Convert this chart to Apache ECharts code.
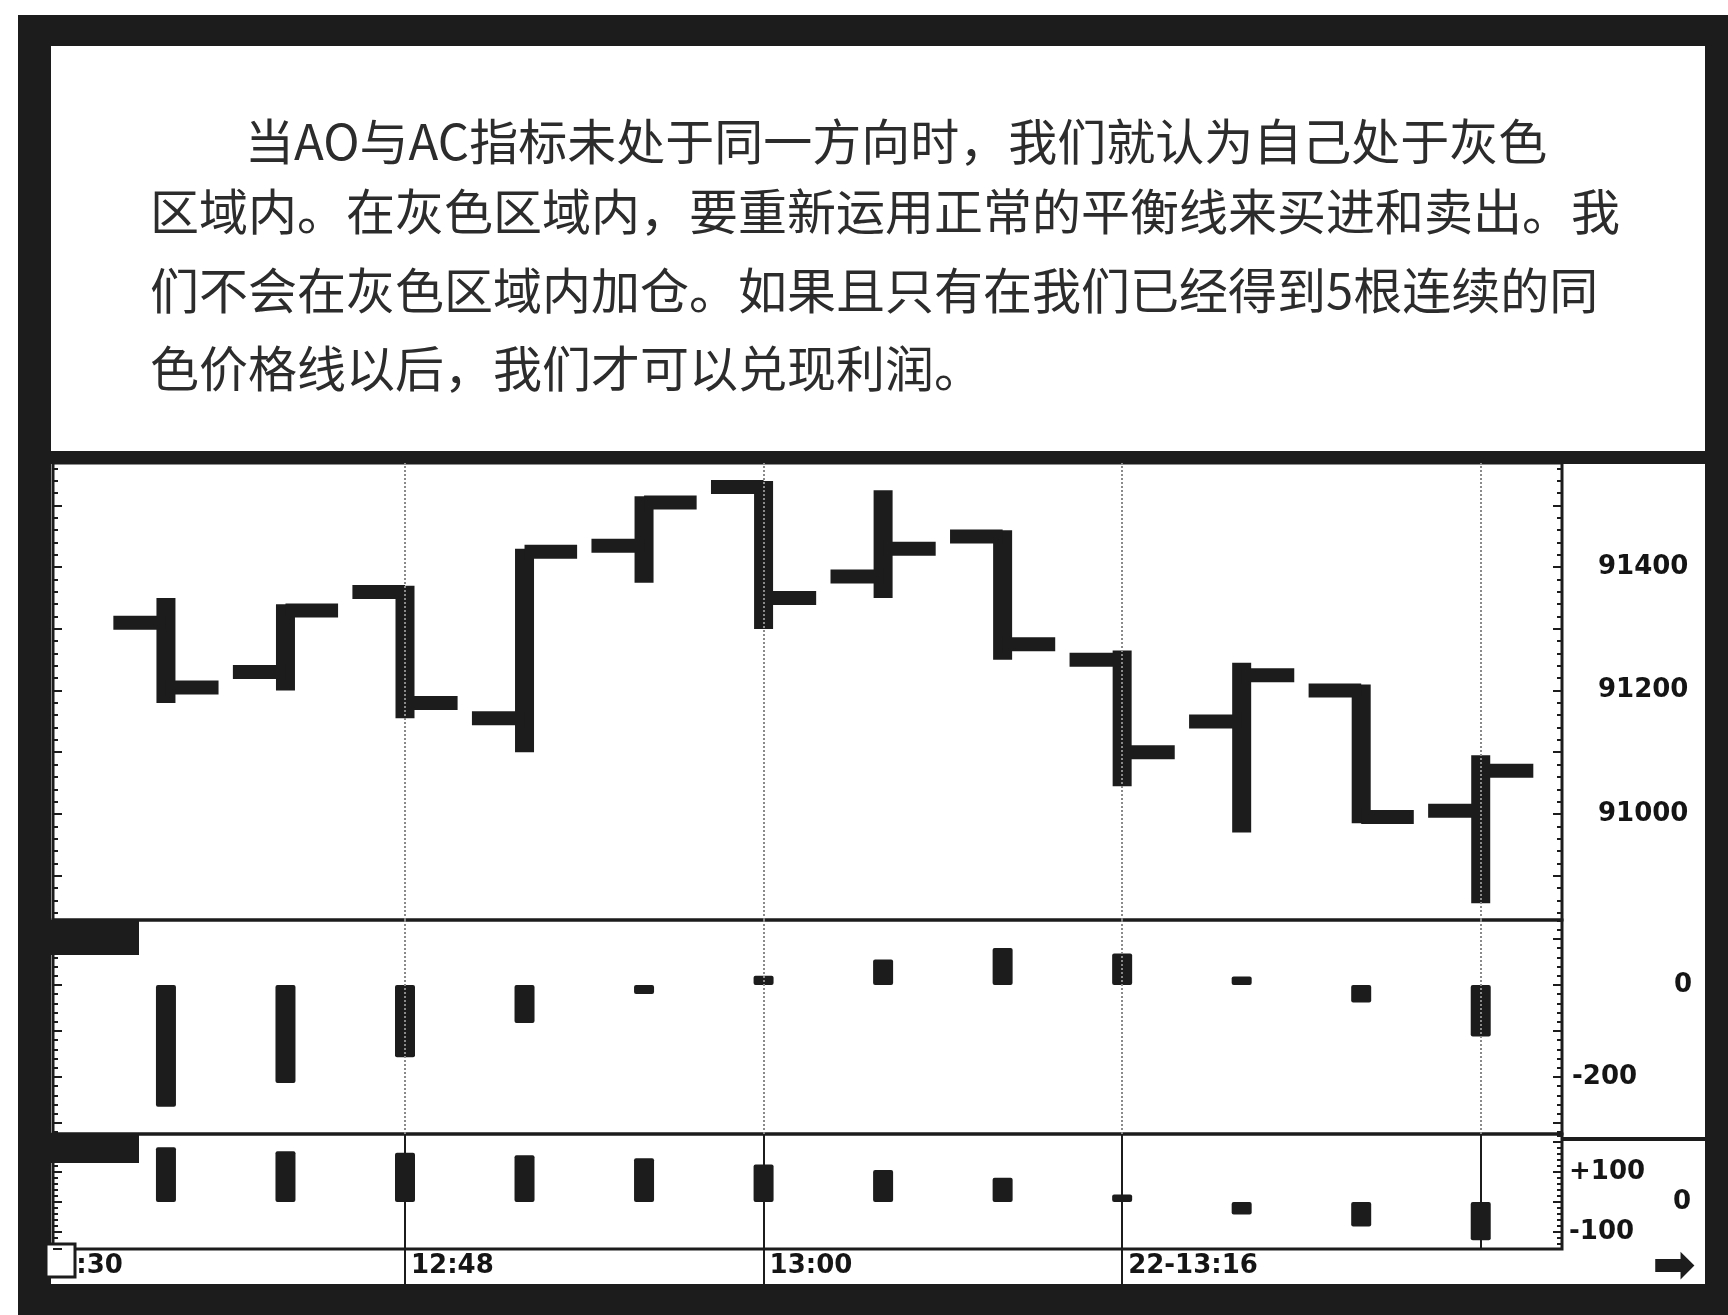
<!DOCTYPE html>
<html><head><meta charset="utf-8">
<script src="https://cdn.jsdelivr.net/npm/echarts@6/dist/echarts.min.js"></script>
<style>html,body{margin:0;padding:0;background:#fff}#c{width:1728px;height:1315px}</style>
</head><body><div id="c"></div>
<script>
// ---- text ----
const textLines = [
  '当AO与AC指标未处于同一方向时，我们就认为自己处于灰色',
  '区域内。在灰色区域内，要重新运用正常的平衡线来买进和卖出。我',
  '们不会在灰色区域内加仓。如果且只有在我们已经得到5根连续的同',
  '色价格线以后，我们才可以兑现利润。'
];
// ---- data ----
const barIndex = [0, 1, 2, 3, 4, 5, 6, 7, 8, 9, 10, 11];
const openP  = [91310, 91230, 91360, 91155, 91435, 91530, 91385, 91450, 91250, 91150, 91200, 91005];
const highP  = [91350, 91340, 91370, 91430, 91515, 91540, 91525, 91460, 91265, 91245, 91210, 91095];
const lowP   = [91180, 91200, 91155, 91100, 91375, 91300, 91350, 91250, 91045, 90970, 90985, 90855];
const closeP = [91205, 91330, 91180, 91425, 91505, 91350, 91430, 91275, 91100, 91225, 90995, 91070];
const aoValues = [-265, -213, -157, -83, -20, 20, 55, 80, 68, 18, -38, -112];
const acValues = [183, 169, 164, 156, 146, 125, 107, 81, 25, -42, -82, -128];
// ---- tick labels ----
const priceLabels = [91000, 91200, 91400];
const aoLabels = [0, -200];
const acLabels = [100, 0, -100];
const timeTickPos = [-0.8, 2, 5, 8];
const timeTickText = [':30', '12:48', '13:00', '22-13:16'];
const gridLineIdx = [2, 5, 8, 11];

const INK = '#1c1c1c';
const X_MIN = -0.945, X_MAX = 11.68;
const numFont = {fontFamily: '"DejaVu Sans"', fontWeight: 'bold', fontSize: 26, color: '#151515'};

const chart = echarts.init(document.getElementById('c'), null, {renderer: 'canvas'});

function ohlcRender(params, api) {
  const x = api.value(0);
  const pO = api.coord([x, api.value(1)]);
  const pH = api.coord([x, api.value(2)]);
  const pL = api.coord([x, api.value(3)]);
  const pC = api.coord([x, api.value(4)]);
  const tick = api.size([0.44, 0])[0];
  const bw = 19, th = 14;
  const st = {fill: INK};
  return {type: 'group', children: [
    {type: 'rect', shape: {x: pH[0] - bw / 2, y: pH[1], width: bw, height: pL[1] - pH[1]}, style: st},
    {type: 'rect', shape: {x: pO[0] - tick, y: pO[1] - th / 2, width: tick, height: th}, style: st},
    {type: 'rect', shape: {x: pC[0], y: pC[1] - th / 2, width: tick, height: th}, style: st}
  ]};
}

function sideAxis(grid, pos, min, max, splitNumber, labelCfg) {
  return {
    type: 'value', gridIndex: grid, position: pos, min: min, max: max, splitNumber: splitNumber,
    axisLine: {show: false, onZero: false}, splitLine: {show: false},
    axisTick: {show: true, inside: true, length: 9, lineStyle: {color: INK, width: 2}},
    minorTick: {show: true, splitNumber: 5, length: 5, lineStyle: {color: INK, width: 2}},
    axisLabel: labelCfg || {show: false}
  };
}

const dottedML = {
  symbol: 'none', silent: true, label: {show: false},
  lineStyle: {color: '#8a8a8a', type: 'dotted', width: 2},
  data: gridLineIdx.map(v => ({xAxis: v}))
};
const solidML = {
  symbol: 'none', silent: true, label: {show: false},
  lineStyle: {color: INK, type: 'solid', width: 2},
  data: gridLineIdx.map(v => ({xAxis: v}))
};

const graphics = [
  {type: 'rect', shape: {x: 18, y: 15, width: 1710, height: 31}, style: {fill: INK}},
  {type: 'rect', shape: {x: 18, y: 15, width: 33, height: 1300}, style: {fill: INK}},
  {type: 'rect', shape: {x: 1705, y: 15, width: 23, height: 1300}, style: {fill: INK}},
  {type: 'rect', shape: {x: 18, y: 1284, width: 1710, height: 31}, style: {fill: INK}},
  {type: 'rect', shape: {x: 50, y: 451, width: 1656, height: 13}, style: {fill: INK}},
  {type: 'rect', shape: {x: 50, y: 920, width: 89, height: 35}, style: {fill: INK}},
  {type: 'rect', shape: {x: 50, y: 1133, width: 89, height: 30}, style: {fill: INK}},
  {type: 'rect', shape: {x: 46, y: 1244, width: 29, height: 33}, style: {fill: '#fff', stroke: INK, lineWidth: 3}},
  {type: 'rect', shape: {x: 1562, y: 1137, width: 143, height: 4}, style: {fill: INK}},
  {type: 'text', x: 1674, y: 1268, style: {text: '➡', font: 'bold 52px "DejaVu Sans"', fill: INK, align: 'center', verticalAlign: 'middle'}}
];
const lineX = [245, 150, 150, 150];
const lineY = [141, 211, 290, 368];
textLines.forEach((t, i) => {
  graphics.push({type: 'text', x: lineX[i], y: lineY[i],
    style: {text: t, font: '49px "Noto Sans CJK SC"', fill: '#2c2c2c', align: 'left', verticalAlign: 'middle'}});
});

const option = {
  animation: false,
  backgroundColor: '#ffffff',
  grid: [
    {left: 53, top: 463, width: 1509, height: 457, show: true, borderColor: INK, borderWidth: 3},
    {left: 53, top: 920, width: 1509, height: 214, show: true, borderColor: INK, borderWidth: 3},
    {left: 53, top: 1134, width: 1509, height: 115, show: true, borderColor: INK, borderWidth: 3},
    {left: 53, top: 1249, width: 1509, height: 35, show: false}
  ],
  xAxis: [
    {type: 'value', gridIndex: 0, min: X_MIN, max: X_MAX, show: false},
    {type: 'value', gridIndex: 1, min: X_MIN, max: X_MAX, show: false},
    {type: 'value', gridIndex: 2, min: X_MIN, max: X_MAX, show: false},
    {type: 'value', gridIndex: 3, min: X_MIN, max: X_MAX, position: 'bottom',
      axisLine: {show: false, onZero: false}, splitLine: {show: false},
      axisTick: {show: true, customValues: [2, 5, 8], inside: true, length: 35, lineStyle: {color: INK, width: 2}},
      axisLabel: Object.assign({
        customValues: timeTickPos, inside: true, margin: 5, align: 'left', padding: [0, 0, 0, 6],
        formatter: v => { const k = timeTickPos.findIndex(p => Math.abs(p - v) < 1e-6); return k >= 0 ? timeTickText[k] : ''; }
      }, numFont)}
  ],
  yAxis: [
    sideAxis(0, 'right', 90828, 91569, 7, Object.assign({customValues: priceLabels, margin: 36, align: 'left',
      formatter: v => String(v)}, numFont)),
    sideAxis(0, 'left', 90828, 91569, 7),
    sideAxis(1, 'right', -324, 141, 5, Object.assign({
      customValues: aoLabels, margin: 10, align: 'left',
      formatter: v => v === 0 ? '{z|0}' : String(v),
      rich: {z: Object.assign({width: 120, align: 'right'}, numFont)}
    }, numFont)),
    sideAxis(1, 'left', -324, 141, 5),
    sideAxis(2, 'right', -157, 227, 4, Object.assign({
      customValues: acLabels, margin: 7, align: 'left',
      formatter: v => v === 0 ? '{z|0}' : (v > 0 ? '+' + v : String(v)),
      rich: {z: Object.assign({width: 122, align: 'right'}, numFont)}
    }, numFont)),
    sideAxis(2, 'left', -157, 227, 4),
    {type: 'value', gridIndex: 3, min: 0, max: 1, show: false}
  ],
  graphic: graphics,
  series: [
    {type: 'custom', name: 'price', xAxisIndex: 0, yAxisIndex: 0, renderItem: ohlcRender,
      encode: {x: 0, y: [1, 2, 3, 4]},
      data: barIndex.map((x, i) => [x, openP[i], highP[i], lowP[i], closeP[i]]),
      markLine: dottedML, z: 3},
    {type: 'bar', name: 'AO', xAxisIndex: 1, yAxisIndex: 2, barWidth: 20,
      itemStyle: {color: INK, borderRadius: 2},
      data: barIndex.map((x, i) => [x, aoValues[i]]), markLine: dottedML},
    {type: 'bar', name: 'AC', xAxisIndex: 2, yAxisIndex: 4, barWidth: 20,
      itemStyle: {color: INK, borderRadius: 2},
      data: barIndex.map((x, i) => [x, acValues[i]]), markLine: solidML},
    {type: 'scatter', name: 'time', xAxisIndex: 3, yAxisIndex: 6, data: [], silent: true}
  ]
};
chart.setOption(option);
</script>
</body></html>
